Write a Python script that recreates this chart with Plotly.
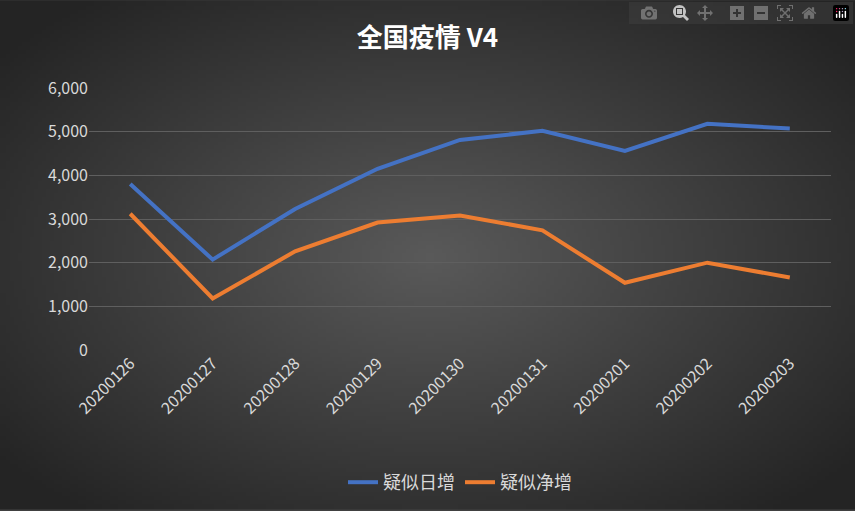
import plotly.graph_objects as go
import zlib, struct, base64, math

dates = ["20200126","20200127","20200128","20200129","20200130","20200131","20200201","20200202","20200203"]
suspect_daily = [3800, 2070, 3230, 4150, 4810, 5020, 4560, 5180, 5070]
suspect_net = [3120, 1180, 2260, 2920, 3080, 2740, 1540, 2000, 1660]

# radial gradient background png
W, H = 214, 128
rows = []
for j in range(H):
    row = bytearray([0])
    for i in range(W):
        dx = (i - W/2) / (W/2); dy = (j - H/2) / (H/2)
        d = min(1.0, math.sqrt(dx*dx + dy*dy) / 1.3)
        v = int(90 - (90 - 36) * d)
        row += bytes([v, v, v])
    rows.append(bytes(row))
raw = b"".join(rows)
def chunk(t, d):
    c = struct.pack(">I", len(d)) + t + d
    return c + struct.pack(">I", zlib.crc32(t + d) & 0xffffffff)
png = b"\x89PNG\r\n\x1a\n" + chunk(b"IHDR", struct.pack(">IIBBBBB", W, H, 8, 2, 0, 0, 0)) + chunk(b"IDAT", zlib.compress(raw)) + chunk(b"IEND", b"")
uri = "data:image/png;base64," + base64.b64encode(png).decode()

L, R, T, B = 89, 24, 88, 160
pw, ph = 855 - L - R, 511 - T - B

fig = go.Figure()
fig.add_trace(go.Scatter(x=dates, y=suspect_daily, mode="lines", name="疑似日增",
                         line=dict(color="#4472C4", width=4)))
fig.add_trace(go.Scatter(x=dates, y=suspect_net, mode="lines", name="疑似净增",
                         line=dict(color="#ED7D31", width=4)))
font = "Noto Sans CJK SC"
fig.update_layout(
    width=855, height=511,
    paper_bgcolor="#404040", plot_bgcolor="rgba(0,0,0,0)",
    images=[dict(source=uri, xref="paper", yref="paper", x=-L/pw, y=1 + T/ph,
                 sizex=855/pw, sizey=511/ph,
                 xanchor="left", yanchor="top", sizing="stretch", layer="below")],
    margin=dict(l=L, r=R, t=T, b=B),
    title=dict(text="<b>全国疫情 V4</b>", x=0.5, xanchor="center", y=0.925, yanchor="middle",
               font=dict(family=font, size=26, color="#ffffff")),
    font=dict(family=font, color="#d9d9d9", size=16),
    xaxis=dict(type="category", range=[-0.5, 8.5], tickangle=-45, showgrid=False,
               showline=False, ticks="", tickfont=dict(size=16, color="#d9d9d9")),
    yaxis=dict(range=[0, 6000], dtick=1000, tickformat=",", gridcolor="#5f5f5f",
               gridwidth=1, zeroline=False, showline=False, ticks="",
               tickfont=dict(size=16, color="#d9d9d9")),
    legend=dict(orientation="h", x=0.5, xanchor="center", y=-0.5, yanchor="middle",
                font=dict(size=18, color="#d9d9d9"), bgcolor="rgba(0,0,0,0)"),
    showlegend=True,
)
fig.write_html("out.html", post_script="document.body.style.margin='0';")
